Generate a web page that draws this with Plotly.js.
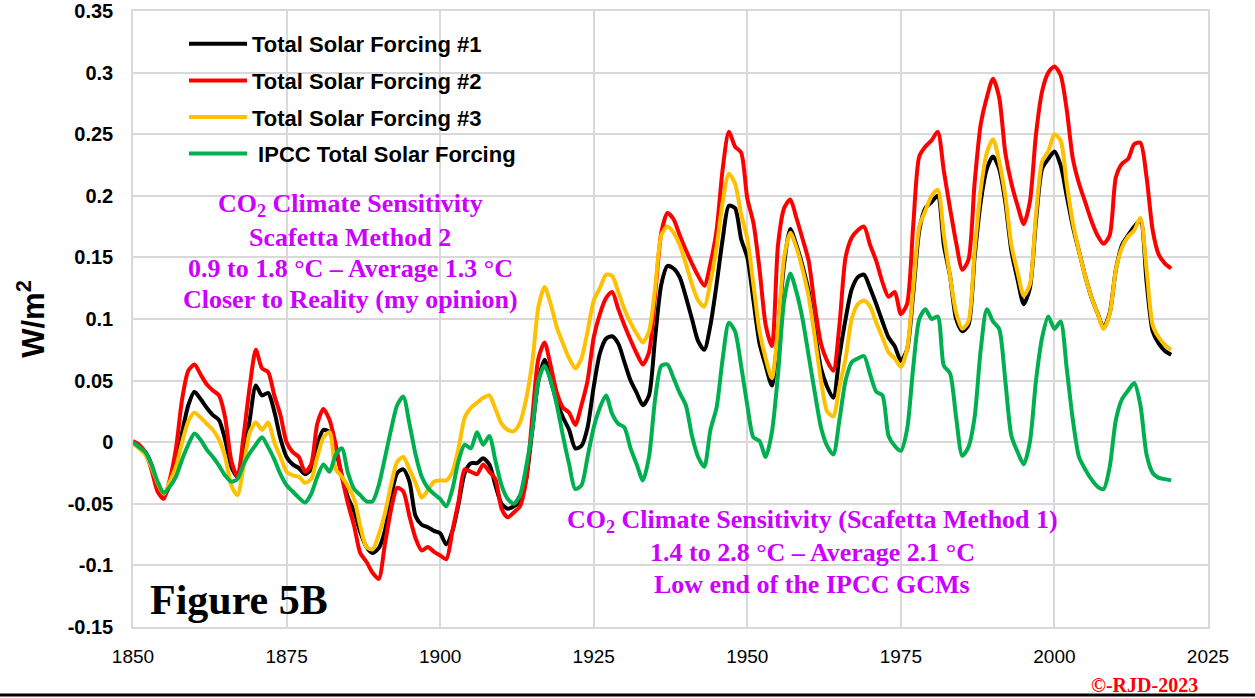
<!DOCTYPE html>
<html>
<head>
<meta charset="utf-8">
<script src="https://cdn.plot.ly/plotly-3.0.1.min.js"></script>
<style>
html,body{margin:0;padding:0;background:#fff;}
#chart{width:1255px;height:698px;}
</style>
</head>
<body>
<div id="chart"></div>
<script>
// ---- Data, years 1850..2019 ----
const firstYear = 1850;
const lastYear = 2019;

const tsf1 = [
 0.000,-0.004,-0.008,-0.018,-0.035,-0.044,-0.035,-0.018,0.008,0.030,
 0.041,0.035,0.028,0.022,0.018,0.002,-0.020,-0.028,-0.010,0.018,
 0.046,0.038,0.040,0.025,0.003,-0.012,-0.018,-0.021,-0.026,-0.022,
 -0.002,0.010,0.008,-0.006,-0.027,-0.045,-0.056,-0.073,-0.085,-0.090,
 -0.086,-0.072,-0.045,-0.025,-0.022,-0.032,-0.060,-0.067,-0.069,-0.072,
 -0.074,-0.083,-0.072,-0.050,-0.025,-0.017,-0.017,-0.013,-0.018,-0.035,
 -0.050,-0.054,-0.052,-0.048,-0.030,0.010,0.050,0.067,0.050,0.033,
 0.020,0.010,-0.005,-0.003,0.012,0.045,0.072,0.084,0.086,0.080,
 0.065,0.050,0.040,0.030,0.038,0.085,0.128,0.143,0.141,0.134,
 0.118,0.100,0.082,0.075,0.095,0.128,0.165,0.192,0.190,0.165,
 0.150,0.115,0.080,0.062,0.046,0.090,0.145,0.173,0.160,0.143,
 0.122,0.090,0.060,0.045,0.036,0.070,0.100,0.124,0.134,0.136,
 0.125,0.112,0.098,0.085,0.078,0.066,0.075,0.120,0.172,0.190,
 0.195,0.200,0.160,0.135,0.100,0.090,0.095,0.150,0.195,0.222,
 0.232,0.222,0.195,0.155,0.132,0.112,0.125,0.180,0.222,0.230,
 0.236,0.225,0.200,0.175,0.155,0.135,0.118,0.105,0.093,0.105,
 0.140,0.160,0.168,0.175,0.180,0.130,0.090,0.080,0.074,0.071
];

const tsf2 = [
 0.001,-0.002,-0.008,-0.022,-0.040,-0.046,-0.030,-0.005,0.035,0.058,
 0.063,0.055,0.047,0.042,0.038,0.020,-0.015,-0.028,0.005,0.045,
 0.075,0.060,0.057,0.038,0.022,0.000,-0.008,-0.012,-0.024,-0.018,
 0.015,0.027,0.018,-0.002,-0.028,-0.050,-0.068,-0.090,-0.097,-0.106,
 -0.111,-0.083,-0.055,-0.037,-0.040,-0.060,-0.078,-0.088,-0.085,-0.089,
 -0.092,-0.095,-0.072,-0.048,-0.022,-0.024,-0.026,-0.018,-0.024,-0.030,
 -0.054,-0.061,-0.057,-0.052,-0.031,0.020,0.068,0.081,0.062,0.040,
 0.028,0.024,0.014,0.030,0.050,0.085,0.104,0.117,0.122,0.108,
 0.095,0.083,0.072,0.063,0.073,0.120,0.170,0.186,0.181,0.168,
 0.156,0.145,0.135,0.127,0.145,0.172,0.222,0.252,0.240,0.235,
 0.198,0.178,0.140,0.095,0.078,0.160,0.190,0.197,0.182,0.165,
 0.147,0.110,0.080,0.066,0.058,0.095,0.150,0.166,0.172,0.175,
 0.160,0.147,0.130,0.118,0.122,0.104,0.112,0.175,0.232,0.240,
 0.245,0.252,0.220,0.190,0.162,0.140,0.148,0.210,0.258,0.280,
 0.295,0.280,0.235,0.210,0.192,0.177,0.195,0.250,0.285,0.300,
 0.305,0.298,0.270,0.230,0.210,0.195,0.180,0.168,0.161,0.168,
 0.215,0.226,0.230,0.242,0.243,0.215,0.172,0.152,0.145,0.141
];

const tsf3 = [
 -0.001,-0.005,-0.010,-0.020,-0.033,-0.042,-0.032,-0.020,0.000,0.017,
 0.024,0.020,0.015,0.010,0.002,-0.012,-0.035,-0.043,-0.020,0.008,
 0.016,0.010,0.016,0.000,-0.012,-0.024,-0.027,-0.028,-0.033,-0.030,
 -0.012,0.004,0.008,-0.022,-0.028,-0.036,-0.046,-0.068,-0.085,-0.087,
 -0.075,-0.058,-0.035,-0.016,-0.012,-0.022,-0.033,-0.045,-0.039,-0.032,
 -0.031,-0.031,-0.024,-0.005,0.020,0.028,0.032,0.036,0.038,0.027,
 0.015,0.010,0.009,0.016,0.035,0.065,0.110,0.126,0.112,0.093,
 0.080,0.068,0.060,0.068,0.090,0.115,0.125,0.136,0.135,0.122,
 0.108,0.097,0.088,0.081,0.090,0.125,0.168,0.175,0.170,0.160,
 0.145,0.128,0.115,0.110,0.130,0.158,0.195,0.218,0.210,0.185,
 0.165,0.128,0.090,0.068,0.052,0.092,0.150,0.170,0.158,0.140,
 0.118,0.085,0.050,0.025,0.021,0.045,0.068,0.100,0.112,0.115,
 0.110,0.097,0.085,0.073,0.068,0.061,0.075,0.125,0.175,0.188,
 0.200,0.205,0.168,0.135,0.105,0.092,0.098,0.155,0.205,0.235,
 0.246,0.228,0.200,0.160,0.138,0.119,0.128,0.185,0.228,0.236,
 0.250,0.245,0.210,0.178,0.155,0.135,0.118,0.105,0.092,0.104,
 0.140,0.158,0.167,0.172,0.182,0.140,0.095,0.085,0.079,0.075
];

const ipcc = [
 0.000,-0.004,-0.008,-0.018,-0.032,-0.041,-0.036,-0.028,-0.014,-0.002,
 0.007,0.002,-0.006,-0.012,-0.019,-0.027,-0.032,-0.030,-0.018,-0.009,
 -0.002,0.004,-0.004,-0.014,-0.026,-0.035,-0.040,-0.045,-0.049,-0.042,
 -0.028,-0.018,-0.024,-0.010,-0.005,-0.025,-0.038,-0.043,-0.048,-0.048,
 -0.035,-0.013,0.010,0.030,0.037,0.015,-0.010,-0.028,-0.037,-0.042,
 -0.046,-0.052,-0.038,-0.015,-0.002,-0.005,0.008,-0.002,0.005,-0.015,
 -0.035,-0.046,-0.050,-0.043,-0.020,0.010,0.050,0.062,0.050,0.030,
 0.005,-0.018,-0.038,-0.035,-0.012,0.012,0.028,0.038,0.023,0.015,
 0.012,-0.005,-0.018,-0.031,-0.012,0.035,0.062,0.063,0.052,0.040,
 0.030,0.005,-0.012,-0.020,0.010,0.028,0.068,0.097,0.090,0.062,
 0.030,0.004,0.001,-0.012,0.008,0.055,0.115,0.137,0.122,0.100,
 0.070,0.040,0.012,-0.003,-0.010,0.018,0.050,0.065,0.068,0.070,
 0.055,0.041,0.038,0.005,-0.003,-0.007,0.010,0.060,0.100,0.108,
 0.100,0.102,0.062,0.056,0.020,-0.011,-0.004,0.020,0.075,0.108,
 0.098,0.092,0.050,0.005,-0.008,-0.018,0.000,0.050,0.085,0.102,
 0.092,0.098,0.060,0.018,-0.012,-0.022,-0.030,-0.036,-0.038,-0.020,
 0.018,0.035,0.042,0.048,0.030,-0.010,-0.025,-0.029,-0.030,-0.031
];

const seriesNames = ["Total Solar Forcing #1","Total Solar Forcing #2","Total Solar Forcing #3"," IPCC Total Solar Forcing"];
const seriesColors = ["#000000","#FF0000","#FFC000","#00B050"];

const xTickVals = [1850,1875,1900,1925,1950,1975,2000,2025];
const yTickVals = [0.35,0.3,0.25,0.2,0.15,0.1,0.05,0,-0.05,-0.1,-0.15];
const yTickText = ["0.35","0.3","0.25","0.2","0.15","0.1","0.05","0","-0.05","-0.1","-0.15"];

const noteTop = ["CO<sub>2</sub> Climate Sensitivity","Scafetta Method 2","0.9 to 1.8 °C – Average 1.3 °C","Closer to Reality (my opinion)"];
const noteBottom = ["CO<sub>2</sub> Climate Sensitivity (Scafetta Method 1)","1.4 to 2.8 °C – Average 2.1 °C","Low end of the IPCC GCMs"];
const figLabel = "Figure 5B";
const credit = "©-RJD-2023";

// ---- Build ----
const years = [];
for (let y = firstYear; y <= lastYear; y++) years.push(y);

// plot area in pixels
const PL = 133, PR = 1208, PT = 11, PB = 627;
const PW = PR - PL, PH = PB - PT;
const px = (x) => (x - PL) / PW;
const py = (y) => (PB - y) / PH;

const allSeries = [tsf1, tsf2, tsf3, ipcc];
const traces = allSeries.map((vals, i) => ({
  type: "scatter",
  mode: "lines",
  x: years,
  y: vals,
  name: seriesNames[i],
  legendgroup: "g" + i,
  line: {color: seriesColors[i], width: 4, shape: "spline", smoothing: 0.7},
  hoverinfo: "x+y+name"
}));

const magenta = "#CC00FF";
const serif = "'Liberation Serif', 'Times New Roman', serif";
const annotations = [];
const topY = [205, 237, 269, 300];
noteTop.forEach((t, i) => annotations.push({
  xref: "paper", yref: "paper",
  x: px(350), y: py(topY[i]),
  xanchor: "center", yanchor: "middle",
  text: t, showarrow: false,
  font: {family: serif, size: 26, color: magenta, weight: 700}
}));
const botY = [521, 552, 584];
noteBottom.forEach((t, i) => annotations.push({
  xref: "paper", yref: "paper",
  x: px(812), y: py(botY[i]),
  xanchor: "center", yanchor: "middle",
  text: t, showarrow: false,
  font: {family: serif, size: 26, color: magenta, weight: 700}
}));
annotations.push({
  xref: "paper", yref: "paper",
  x: px(148), y: py(600),
  xanchor: "left", yanchor: "middle",
  text: figLabel, showarrow: false,
  font: {family: serif, size: 42, color: "#000000", weight: 700}
});
annotations.push({
  xref: "paper", yref: "paper",
  x: px(1200), y: py(685),
  xanchor: "right", yanchor: "middle",
  text: credit, showarrow: false,
  font: {family: serif, size: 20, color: "#FF0000", weight: 700}
});

const layout = {
  width: 1255, height: 698,
  margin: {l: PL, r: 1255 - PR, t: PT, b: 698 - PB, pad: 0},
  paper_bgcolor: "#ffffff",
  plot_bgcolor: "#ffffff",
  showlegend: true,
  legend: {
    x: px(184), y: py(23),
    xanchor: "left", yanchor: "top",
    bgcolor: "rgba(0,0,0,0)",
    font: {family: "'Liberation Sans', Arial, sans-serif", size: 22, color: "#000", weight: 700},
    itemwidth: 58,
    tracegroupgap: 5,
    traceorder: "grouped"
  },
  xaxis: {
    range: [1850, 2025],
    tickvals: xTickVals,
    ticktext: xTickVals.map(String),
    showgrid: true, gridcolor: "#D9D9D9", gridwidth: 1.5,
    zeroline: false,
    showline: true, linecolor: "#D9D9D9", linewidth: 1.5, mirror: true,
    ticks: "",
    ticklabelstandoff: 11,
    ticklabeloverflow: "allow",
    tickfont: {family: "'Liberation Sans', Arial, sans-serif", size: 19, color: "#000"}
  },
  yaxis: {
    range: [-0.15, 0.35001],
    tickvals: yTickVals,
    ticktext: yTickText,
    showgrid: true, gridcolor: "#D9D9D9", gridwidth: 1.5,
    zeroline: false,
    showline: true, linecolor: "#D9D9D9", linewidth: 1.5, mirror: true,
    ticks: "",
    ticklabelstandoff: 14,
    ticklabeloverflow: "allow",
    tickfont: {family: "'Liberation Sans', Arial, sans-serif", size: 20, color: "#000", weight: 700},
    title: {text: "W/m<sup>2</sup>", font: {family: "'Liberation Sans', Arial, sans-serif", size: 31, color: "#000", weight: 700}, standoff: 14}
  },
  annotations: annotations,
  shapes: [{
    type: "line", xref: "paper", yref: "paper",
    x0: px(0), x1: px(1255),
    y0: py(695), y1: py(695),
    line: {color: "#000000", width: 3}
  }]
};

Plotly.newPlot("chart", traces, layout, {displayModeBar: false, responsive: false});
</script>
</body>
</html>
